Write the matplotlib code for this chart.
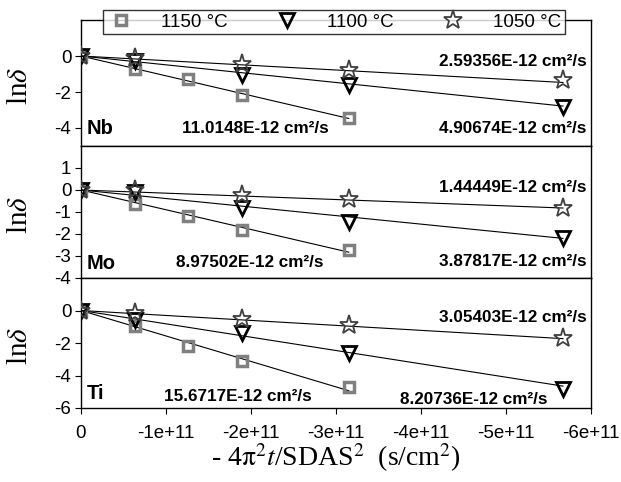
#!/usr/bin/env python3
"""
lnδ vs -4π²t/SDAS² プロット (Nb / Mo / Ti)
"""

import matplotlib
matplotlib.use('Agg')
import matplotlib.pyplot as plt
import numpy as np

plt.rcParams['font.family'] = ['Liberation Sans', 'DejaVu Sans']
plt.rcParams['mathtext.fontset'] = 'stix'

# x軸の値 (s/cm^2)
x_1150 = [0, -0.63e11, -1.26e11, -1.89e11, -3.15e11]
x_1100 = [0, -0.63e11, -1.89e11, -3.15e11, -5.67e11]
x_1050 = [0, -0.63e11, -1.89e11, -3.15e11, -5.67e11]

temps = ['1150 °C', '1100 °C', '1050 °C']
elements = ['Nb', 'Mo', 'Ti']

# lnδ の測定値
nb_1150 = [0, -0.71, -1.29, -2.14, -3.43]
nb_1100 = [0, -0.27, -1.07, -1.60, -2.83]
nb_1050 = [0, -0.10, -0.45, -0.80, -1.36]

mo_1150 = [0, -0.65, -1.17, -1.83, -2.71]
mo_1100 = [0, -0.10, -0.84, -1.45, -2.20]
mo_1050 = [0, 0.0, -0.23, -0.43, -0.80]

ti_1150 = [0, -0.95, -2.20, -3.12, -4.72]
ti_1100 = [0, -0.60, -1.40, -2.62, -4.80]
ti_1050 = [0, -0.15, -0.52, -0.90, -1.68]

# 拡散係数 (E-12 cm^2/s) : 1150, 1100, 1050
nb_D = [11.0148, 4.90674, 2.59356]
mo_D = [8.97502, 3.87817, 1.44449]
ti_D = [15.6717, 8.20736, 3.05403]

# 軸範囲と目盛
ylims = [(-5, 2), (-4, 2), (-6, 2)]
yticks = [[-4, -2, 0], [-4, -3, -2, -1, 0, 1], [-6, -4, -2, 0]]
xticks = [0, -1e11, -2e11, -3e11, -4e11, -5e11, -6e11]
xtick_labels = ['0', '-1e+11', '-2e+11', '-3e+11', '-4e+11', '-5e+11', '-6e+11']

# 注釈の位置 (1150, 1100, 1050, 元素名)
label_pos = [
    [(-2.05e11, -4.05), (-5.95e11, -4.05), (-5.95e11, -0.33), (-0.07e11, -4.05)],
    [(-1.99e11, -3.30), (-5.95e11, -3.25), (-5.95e11, 0.10), (-0.07e11, -3.35)],
    [(-1.85e11, -5.30), (-5.49e11, -5.45), (-5.95e11, -0.43), (-0.07e11, -5.10)],
]

series = [
    [nb_1150, nb_1100, nb_1050],
    [mo_1150, mo_1100, mo_1050],
    [ti_1150, ti_1100, ti_1050],
]
D_all = [nb_D, mo_D, ti_D]
xs = [x_1150, x_1100, x_1050]

styles = [
    dict(marker='s', ms=7, mew=2.5, mec='#808080', mfc='none'),
    dict(marker='v', ms=10, mew=2.0, mec='black', mfc='none'),
    dict(marker='*', ms=14, mew=1.3, mec='#404040', mfc='none'),
]


def main():
    fig = plt.figure(figsize=(6.21, 4.82), dpi=100)

    # パネル位置 (ピクセルから換算)
    W, H = 621.0, 482.0
    left = 81 / W
    width = (591 - 81) / W
    rows = [(20, 146), (146, 278), (278, 408)]

    handles = []
    for i, (top, bot) in enumerate(rows):
        ax = fig.add_axes([left, 1 - bot / H, width, (bot - top) / H])
        for j in range(3):
            # フィット直線 lnδ = D * x
            xe = np.array([0, min(xs[j])])
            ax.plot(xe, D_all[i][j] * 1e-12 * xe, color='black', lw=0.8, zorder=2)
            h, = ax.plot(xs[j], series[i][j], ls='none', zorder=3 + j,
                         label=temps[j], **styles[j])
            if i == 0:
                handles.append(h)

        ax.set_xlim(0, -6e11)
        ax.set_ylim(*ylims[i])
        ax.set_yticks(yticks[i])
        ax.set_yticklabels([str(v) for v in yticks[i]])
        ax.set_xticks(xticks)
        if i == 2:
            ax.set_xticklabels(xtick_labels)
            ax.tick_params(axis='x', direction='out', length=4, labelsize=13.5, pad=8)
        else:
            ax.tick_params(axis='x', length=0, labelbottom=False)
        ax.tick_params(axis='y', direction='out', length=4, labelsize=13.5, pad=3)
        for sp in ax.spines.values():
            sp.set_linewidth(1.0)
            sp.set_color('black')

        # 注釈
        for j in range(3):
            px, py = label_pos[i][j]
            ha = 'center' if j == 0 else 'right'
            ax.text(px, py, f'{D_all[i][j]:g}E-12 cm²/s', ha=ha, va='center',
                    fontsize=12.3, fontweight='bold')
        px, py = label_pos[i][3]
        ax.text(px, py, elements[i], ha='left', va='center',
                fontsize=14.5, fontweight='bold')

        # y軸ラベル
        fig.text(20 / W, 1 - ((top + bot) / 2 + 3) / H, r'ln$\delta$',
                 rotation=90, ha='center', va='center', fontsize=21,
                 family='Liberation Serif')

    fig.text((81 + 591) / 2 / W, 1 - 458 / H,
             r'- 4$\mathrm{\pi}^2t$/SDAS$^2$  (s/cm$^2$)',
             ha='center', va='center', fontsize=20, family='Liberation Serif')

    leg = fig.legend(handles=handles, loc='center', ncol=3, mode='expand',
                     bbox_to_anchor=(103 / W, 1 - 36 / H, (565 - 103) / W, 28 / H),
                     borderaxespad=0, fontsize=13.5, frameon=True, fancybox=False,
                     handlelength=1.5, handletextpad=1.4, borderpad=0.2)
    leg.get_frame().set_edgecolor('black')
    leg.get_frame().set_linewidth(1.0)

    plt.savefig('out.png', dpi=100)
    plt.close()


if __name__ == "__main__":
    main()
